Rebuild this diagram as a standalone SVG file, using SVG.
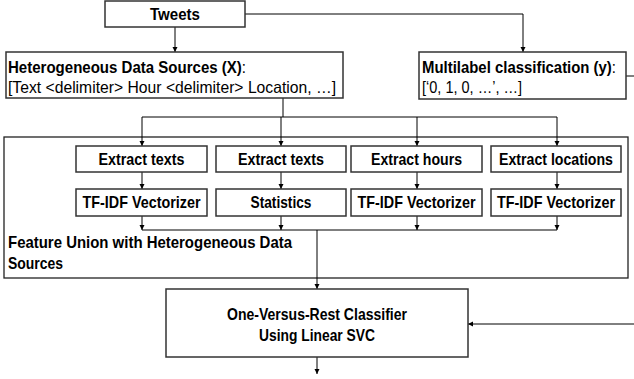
<svg xmlns="http://www.w3.org/2000/svg" width="634" height="379" viewBox="0 0 634 379">
<style>
.box{fill:#fff;stroke:#333;stroke-width:1.5}
.frame{fill:none;stroke:#222;stroke-width:1.3}
.ln{fill:none;stroke:#000;stroke-width:1}
text{font-family:"Liberation Sans",Arial,sans-serif;font-size:16.5px;fill:#000}
.b{font-weight:bold}
.c{text-anchor:middle}
</style>
<defs>
<marker id="ah" markerWidth="6" markerHeight="6" refX="5" refY="3" orient="auto" markerUnits="userSpaceOnUse">
<path d="M0,0.5 L5,3 L0,5.5 Z" fill="#000"/>
</marker>
</defs>
<g id="feature-union">
<rect class="frame" x="4" y="137" width="624" height="141"/>
<text x="8" y="248" class="b" textLength="284" lengthAdjust="spacingAndGlyphs">Feature Union with Heterogeneous Data</text>
<text x="8" y="269" class="b" textLength="55" lengthAdjust="spacingAndGlyphs">Sources</text>
</g>
<g id="connectors">
<path class="ln" d="M175,27 V52" marker-end="url(#ah)"/>
<path class="ln" d="M245,14 H523 V52" marker-end="url(#ah)"/>
<path class="ln" d="M283,98 V117 M142,117 H557"/>
<path class="ln" d="M142,117 V146" marker-end="url(#ah)"/>
<path class="ln" d="M281,117 V146" marker-end="url(#ah)"/>
<path class="ln" d="M417,117 V146" marker-end="url(#ah)"/>
<path class="ln" d="M557,117 V146" marker-end="url(#ah)"/>
<path class="ln" d="M142,172 V189" marker-end="url(#ah)"/>
<path class="ln" d="M281,172 V189" marker-end="url(#ah)"/>
<path class="ln" d="M417,172 V189" marker-end="url(#ah)"/>
<path class="ln" d="M557,172 V189" marker-end="url(#ah)"/>
<path class="ln" d="M142,216 V230" marker-end="url(#ah)"/>
<path class="ln" d="M281,216 V230" marker-end="url(#ah)"/>
<path class="ln" d="M417,216 V230" marker-end="url(#ah)"/>
<path class="ln" d="M557,216 V230" marker-end="url(#ah)"/>
<path class="ln" d="M142,230 H557"/>
<path class="ln" d="M317,230 V289" marker-end="url(#ah)"/>
<path class="ln" d="M317,357 V374" marker-end="url(#ah)"/>
<path class="ln" d="M626,76 H634"/>
<path class="ln" d="M634,324 H468" marker-end="url(#ah)"/>
</g>
<g id="tweets">
<rect class="box" x="105" y="1" width="140" height="26"/>
<text x="175" y="20" class="b c" textLength="50" lengthAdjust="spacingAndGlyphs">Tweets</text>
</g>
<g id="hetero">
<rect class="box" x="6" y="52" width="337" height="46"/>
<text x="8" y="73" textLength="238" lengthAdjust="spacingAndGlyphs"><tspan class="b">Heterogeneous Data Sources (X)</tspan>:</text>
<text x="8" y="93" textLength="328" lengthAdjust="spacingAndGlyphs">[Text &lt;delimiter&gt; Hour &lt;delimiter&gt; Location, …]</text>
</g>
<g id="multilabel">
<rect class="box" x="419" y="52" width="207" height="47"/>
<text x="422" y="73" textLength="194" lengthAdjust="spacingAndGlyphs"><tspan class="b">Multilabel classification (y)</tspan>:</text>
<text x="422" y="93" textLength="100" lengthAdjust="spacingAndGlyphs">[‘0, 1, 0, …’, …]</text>
</g>
<g id="extract-texts-1">
<rect class="box" x="76" y="146" width="131" height="26"/>
<text x="141.5" y="165" class="b c" textLength="86" lengthAdjust="spacingAndGlyphs">Extract texts</text>
</g>
<g id="extract-texts-2">
<rect class="box" x="216" y="146" width="130" height="26"/>
<text x="281" y="165" class="b c" textLength="86" lengthAdjust="spacingAndGlyphs">Extract texts</text>
</g>
<g id="extract-hours">
<rect class="box" x="351" y="146" width="131" height="26"/>
<text x="416.5" y="165" class="b c" textLength="91" lengthAdjust="spacingAndGlyphs">Extract hours</text>
</g>
<g id="extract-locations">
<rect class="box" x="491" y="146" width="130" height="26"/>
<text x="556" y="165" class="b c" textLength="114" lengthAdjust="spacingAndGlyphs">Extract locations</text>
</g>
<g id="tfidf-1">
<rect class="box" x="76" y="189" width="131" height="27"/>
<text x="141.5" y="208" class="b c" textLength="118" lengthAdjust="spacingAndGlyphs">TF-IDF Vectorizer</text>
</g>
<g id="statistics">
<rect class="box" x="216" y="189" width="130" height="27"/>
<text x="281" y="208" class="b c" textLength="61" lengthAdjust="spacingAndGlyphs">Statistics</text>
</g>
<g id="tfidf-2">
<rect class="box" x="351" y="189" width="131" height="27"/>
<text x="416.5" y="208" class="b c" textLength="118" lengthAdjust="spacingAndGlyphs">TF-IDF Vectorizer</text>
</g>
<g id="tfidf-3">
<rect class="box" x="491" y="189" width="130" height="27"/>
<text x="556" y="208" class="b c" textLength="118" lengthAdjust="spacingAndGlyphs">TF-IDF Vectorizer</text>
</g>
<g id="classifier">
<rect class="box" x="166" y="289" width="302" height="68"/>
<text x="317" y="320" class="b c" textLength="180" lengthAdjust="spacingAndGlyphs">One-Versus-Rest Classifier</text>
<text x="317" y="341" class="b c" textLength="116" lengthAdjust="spacingAndGlyphs">Using Linear SVC</text>
</g>
</svg>
